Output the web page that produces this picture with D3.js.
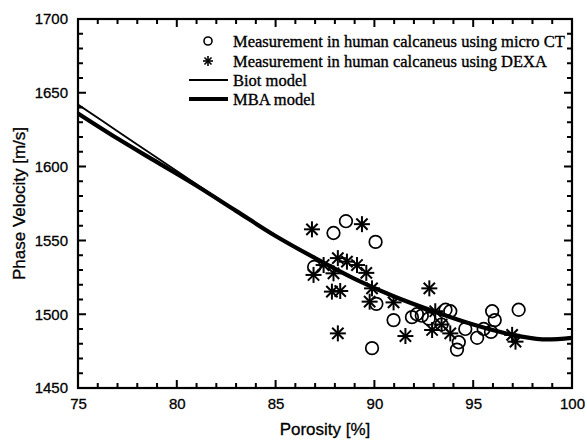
<!DOCTYPE html>
<html>
<head>
<meta charset="utf-8">
<script src="https://cdn.jsdelivr.net/npm/d3@7"></script>
<style>
  body { margin: 0; background: #fff; }
  svg { display: block; }
</style>
</head>
<body>
<svg id="chart" width="587" height="443"></svg>
<script>
// ticks
const xTicks = [75, 80, 85, 90, 95, 100];
const yTicks = [1450, 1500, 1550, 1600, 1650, 1700];

// model curves
const modelX = [75, 77, 79, 81, 83, 85, 87, 89, 91, 93, 95, 97, 98.5, 100];
const biotY  = [1642, 1624, 1606, 1588, 1570, 1553, 1538, 1524, 1512, 1502, 1493, 1486, 1483, 1484];
const mbaY   = [1636, 1619, 1603, 1587, 1570, 1553, 1538, 1524, 1512, 1502, 1493, 1486, 1483, 1484];

// measurement micro CT (circles)
const ctX = [86.95, 87.93, 88.56, 90.06, 90.1, 89.88, 90.97, 91.9, 92.15, 92.4, 92.75, 93.6, 93.84, 93.4, 94.27, 94.18, 94.6, 95.2, 95.53, 95.96, 96.09, 95.9, 97.3];
const ctY = [1532, 1555, 1563, 1549, 1507, 1477, 1496, 1498, 1500, 1499, 1497, 1503, 1502, 1493, 1481, 1476, 1490, 1484, 1490, 1502, 1496, 1488, 1503];

// measurement DEXA (asterisks)
const dxX = [86.84, 89.37, 86.92, 87.43, 88.15, 87.93, 88.61, 89.12, 89.59, 87.85, 88.27, 89.88, 89.76, 90.97, 92.78, 91.57, 88.15, 92.92, 93.08, 93.4, 93.84, 96.97, 97.14];
const dxY = [1557.5, 1561, 1526.6, 1533.3, 1538, 1527.7, 1535.6, 1533.3, 1528, 1515.3, 1515.7, 1517.5, 1508.5, 1508, 1517.5, 1485.2, 1487, 1489.3, 1502, 1493, 1487, 1486, 1481.4];

const legendNames = [
  "Measurement in human calcaneus using micro CT",
  "Measurement in human calcaneus using DEXA",
  "Biot model",
  "MBA model"
];

const svg = d3.select("#chart");
const pLeft = 78, pRight = 572, pTop = 19, pBottom = 388;

const x = d3.scaleLinear().domain([75, 100]).range([pLeft, pRight]);
const y = d3.scaleLinear().domain([1450, 1700]).range([pBottom, pTop]);

const sans = "'Liberation Sans', Arial, sans-serif";
const serif = "'Liberation Serif', 'Times New Roman', serif";

const g = svg.append("g");

svg.append("clipPath").attr("id", "clip")
  .append("rect").attr("x", pLeft).attr("y", pTop).attr("width", pRight - pLeft).attr("height", pBottom - pTop);

const line = d3.line().x(d => x(d[0])).y(d => y(d[1])).curve(d3.curveCatmullRom);

g.append("path")
  .datum(modelX.map((v, i) => [v, mbaY[i]]))
  .attr("clip-path", "url(#clip)")
  .attr("d", line)
  .attr("fill", "none").attr("stroke", "#000").attr("stroke-width", 4.2);

g.append("path")
  .datum(modelX.map((v, i) => [v, biotY[i]]))
  .attr("clip-path", "url(#clip)")
  .attr("d", line)
  .attr("fill", "none").attr("stroke", "#000").attr("stroke-width", 1.8);

// asterisk: 4 strokes through the centre
function star(sel, r) {
  [0, 45, 90, 135].forEach(a => {
    const rad = a * Math.PI / 180;
    sel.append("line")
      .attr("x1", -r * Math.cos(rad)).attr("y1", -r * Math.sin(rad))
      .attr("x2", r * Math.cos(rad)).attr("y2", r * Math.sin(rad));
  });
}

g.selectAll(".ct")
  .data(ctX.map((v, i) => [v, ctY[i]]))
  .enter().append("circle")
  .attr("cx", d => x(d[0])).attr("cy", d => y(d[1]))
  .attr("r", 6.3)
  .attr("fill", "none").attr("stroke", "#000").attr("stroke-width", 1.7);

g.selectAll(".dx")
  .data(dxX.map((v, i) => [v, dxY[i]]))
  .enter().append("g")
  .attr("transform", d => `translate(${x(d[0])},${y(d[1])})`)
  .attr("stroke", "#000").attr("stroke-width", 2)
  .each(function () { star(d3.select(this), 8); });

// ticks drawn as one path, pointing inward on all four sides
const xMinor = d3.range(75, 100.01, 1);
const yMinor = d3.range(1450, 1700.01, 10);
let tickPath = "";
xMinor.forEach(v => {
  const len = xTicks.includes(v) ? 8 : 5;
  const px = x(v);
  tickPath += `M${px},${pBottom}V${pBottom - len}M${px},${pTop}V${pTop + len}`;
});
yMinor.forEach(v => {
  const len = yTicks.includes(v) ? 8 : 5;
  const py = y(v);
  tickPath += `M${pLeft},${py}H${pLeft + len}M${pRight},${py}H${pRight - len}`;
});
svg.append("path")
  .attr("d", tickPath)
  .attr("fill", "none")
  .attr("stroke", "#000")
  .attr("stroke-width", 2);

// tick labels via axes (lines hidden)
const xa = g.append("g").attr("transform", `translate(0,${pBottom})`)
  .call(d3.axisBottom(x).tickValues(xTicks).tickSize(0).tickPadding(10).tickFormat(d3.format("d")));
const ya = g.append("g").attr("transform", `translate(${pLeft},0)`)
  .call(d3.axisLeft(y).tickValues(yTicks).tickSize(0).tickPadding(10).tickFormat(d3.format("d")));
[xa, ya].forEach(a => {
  a.select(".domain").remove();
  a.selectAll(".tick line").remove();
  a.selectAll(".tick text")
    .attr("fill", "#000")
    .attr("stroke", "#000").attr("stroke-width", 0.3)
    .style("font-family", sans)
    .style("font-size", "15px");
});

g.append("rect")
  .attr("x", pLeft).attr("y", pTop).attr("width", pRight - pLeft).attr("height", pBottom - pTop)
  .attr("fill", "none").attr("stroke", "#000").attr("stroke-width", 2.2);

// axis titles
svg.append("text")
  .attr("x", (pLeft + pRight) / 2).attr("y", 435)
  .attr("text-anchor", "middle")
  .attr("stroke", "#000").attr("stroke-width", 0.3)
  .style("font-family", sans)
  .style("font-size", "17px")
  .text("Porosity [%]");

svg.append("text")
  .attr("transform", `translate(25,${(pTop + pBottom) / 2}) rotate(-90)`)
  .attr("text-anchor", "middle")
  .attr("stroke", "#000").attr("stroke-width", 0.3)
  .style("font-family", sans)
  .style("font-size", "17px")
  .text("Phase Velocity [m/s]");

// legend
const legRows = [41, 61, 80, 99];
const leg = svg.append("g");
legendNames.forEach((name, i) => {
  const ly = legRows[i];
  if (i === 0) {
    leg.append("circle").attr("cx", 208).attr("cy", ly).attr("r", 4)
      .attr("fill", "none").attr("stroke", "#000").attr("stroke-width", 1.6);
  } else if (i === 1) {
    const s = leg.append("g").attr("transform", `translate(208,${ly})`)
      .attr("stroke", "#000").attr("stroke-width", 1.6);
    star(s, 5);
  } else {
    leg.append("line").attr("x1", 189).attr("x2", 228).attr("y1", ly).attr("y2", ly)
      .attr("stroke", "#000").attr("stroke-width", i === 2 ? 1.8 : 4.2);
  }
  leg.append("text")
    .attr("x", 233).attr("y", ly + 5.5)
    .attr("stroke", "#000").attr("stroke-width", 0.35)
    .style("font-family", serif)
    .style("font-size", "16.5px")
    .text(name);
});
</script>
</body>
</html>
